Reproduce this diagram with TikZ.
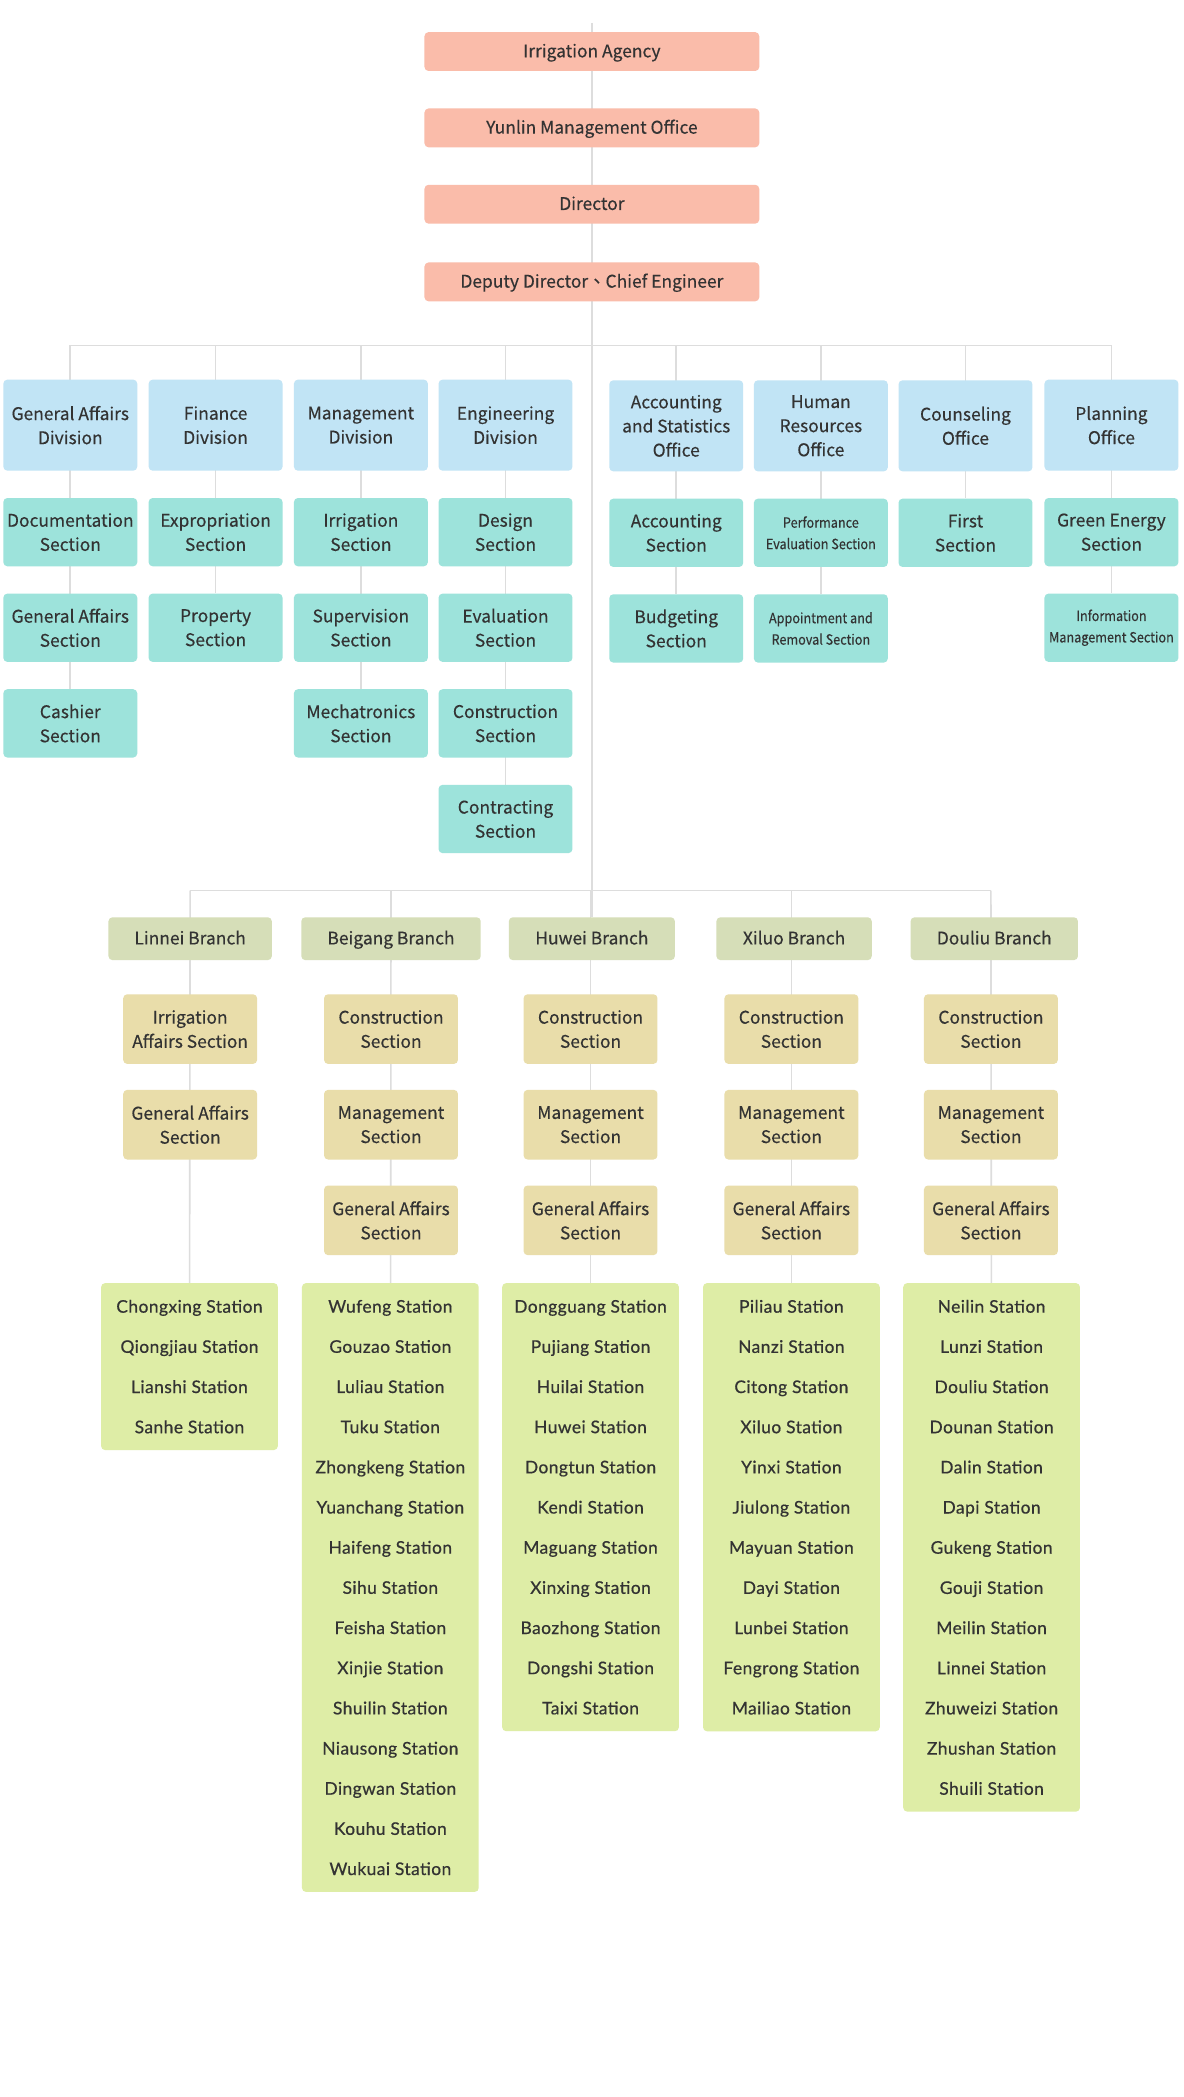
\documentclass[tikz,border=0pt]{standalone}
\usepackage{fontspec}
\setmainfont{Noto Sans CJK TC}[FakeBold=0.35]
\newfontfamily\narrowfont{Noto Sans CJK TC}[FakeBold=0.3,FakeStretch=0.9]
\newfontfamily\stationfont{Lato}[FakeBold=0.6,LetterSpace=2.5]
\usetikzlibrary{
  positioning, % for relative placement of the sections
  backgrounds, % to keep the connectors behind the boxes
}
\definecolor{headred}{HTML}{FABCAA}
\definecolor{divblue}{HTML}{C1E4F5}
\definecolor{secteal}{HTML}{9DE3DB}
\definecolor{brgreen}{HTML}{D6DEB8}
\definecolor{brsand}{HTML}{E9DDAA}
\definecolor{stgreen}{HTML}{DEEDA6}
\definecolor{linegray}{HTML}{DDDDDD}
\definecolor{textgray}{HTML}{333333}
\tikzset{
  box/.style={ % common look of every box
    rectangle,rounded corners=3pt, % flat box with soft corners
    inner sep=0pt, % size is set by minimum width and height
    align=center,text=textgray,
    font=\fontsize{13}{18}\selectfont,
  },
  oneline/.style={text height=11pt,text depth=2.4pt}, % keep single lines centred on their capitals
  head/.style={box,oneline,fill=headred,minimum width=250pt,minimum height=29pt},
  division/.style={box,fill=divblue,minimum width=100pt,minimum height=68pt},
  section/.style={ % sections under a division
    box,fill=secteal,
    minimum width=100pt,minimum height=51pt,
    node distance=20pt,
  },
  small/.style={font=\narrowfont\fontsize{10.5}{16}\selectfont}, % long section names
  branch/.style={box,oneline,fill=brgreen,minimum height=32pt},
  brsect/.style={ % sections under a branch
    box,fill=brsand,
    minimum width=100pt,minimum height=52pt,
    node distance=19pt,
  },
  stations/.style={ % list of stations of a branch
    box,fill=stgreen,anchor=north,
    minimum width=132pt,inner ysep=12.5pt,
    font=\stationfont\fontsize{13}{30}\selectfont,
  },
  conn/.style={draw=linegray,line width=1.2pt}, % plain connector
}
\begin{document}
\begin{tikzpicture}[x=1pt,y=-1pt]
  \useasboundingbox (0,0) rectangle (884,1566);

  % head of the office
  \node[head] (agency) at (442,38.5) {Irrigation Agency};
  \node[head] (office) at (442,95.5) {Yunlin Management Office};
  \node[head] (director) at (442,152.5) {Director};
  \node[head] (deputy) at (442,210.5) {Deputy Director、Chief Engineer};
  \coordinate (trunktop) at (442,17);
  \coordinate (bar1) at (0,258);
  \coordinate (bar2) at (0,665);

  % divisions and offices
  \node[division] (gad) at (52.5,317.5) {General Affairs\\Division};
  \node[division] (fid) at (161,317.5) {Finance\\Division};
  \node[division] (mad) at (269.5,317.5) {Management\\Division};
  \node[division] (end) at (377.5,317.5) {Engineering\\Division};
  \node[division] (aso) at (505,318) {Accounting\\and Statistics\\Office};
  \node[division] (hro) at (613,318) {Human\\Resources\\Office};
  \node[division] (coo) at (721,318) {Counseling\\Office};
  \node[division] (plo) at (830,317.5) {Planning\\Office};

  \node[section,below=of gad] (gad1) {Documentation\\Section};
  \node[section,below=of gad1] (gad2) {General Affairs\\Section};
  \node[section,below=of gad2] (gad3) {Cashier\\Section};

  \node[section,below=of fid] (fid1) {Expropriation\\Section};
  \node[section,below=of fid1] (fid2) {Property\\Section};

  \node[section,below=of mad] (mad1) {Irrigation\\Section};
  \node[section,below=of mad1] (mad2) {Supervision\\Section};
  \node[section,below=of mad2] (mad3) {Mechatronics\\Section};

  \node[section,below=of end] (end1) {Design\\Section};
  \node[section,below=of end1] (end2) {Evaluation\\Section};
  \node[section,below=of end2] (end3) {Construction\\Section};
  \node[section,below=of end3] (end4) {Contracting\\Section};

  \node[section,below=of aso] (aso1) {Accounting\\Section};
  \node[section,below=of aso1] (aso2) {Budgeting\\Section};

  \node[section,small,below=of hro] (hro1) {Performance\\Evaluation Section};
  \node[section,small,below=of hro1] (hro2) {Appointment and\\Removal Section};

  \node[section,below=of coo] (coo1) {First\\Section};

  \node[section,below=of plo] (plo1) {Green Energy\\Section};
  \node[section,small,below=of plo1] (plo2) {Information\\Management Section};

  % branches
  \node[branch,minimum width=122pt] (lnb) at (142,701) {Linnei Branch};
  \node[branch,minimum width=134pt] (bgb) at (292,701) {Beigang Branch};
  \node[branch,minimum width=124pt] (hwb) at (442,701) {Huwei Branch};
  \node[branch,minimum width=116pt] (xlb) at (593,701) {Xiluo Branch};
  \node[branch,minimum width=125pt] (dlb) at (742.5,701) {Douliu Branch};

  \node[brsect] (lnb1) at (142,768.5) {Irrigation\\Affairs Section};
  \node[brsect,below=of lnb1] (lnb2) {General Affairs\\Section};

  \node[brsect] (bgb1) at (292,768.5) {Construction\\Section};
  \node[brsect,below=of bgb1] (bgb2) {Management\\Section};
  \node[brsect,below=of bgb2] (bgb3) {General Affairs\\Section};

  \node[brsect] (hwb1) at (441,768.5) {Construction\\Section};
  \node[brsect,below=of hwb1] (hwb2) {Management\\Section};
  \node[brsect,below=of hwb2] (hwb3) {General Affairs\\Section};

  \node[brsect] (xlb1) at (591,768.5) {Construction\\Section};
  \node[brsect,below=of xlb1] (xlb2) {Management\\Section};
  \node[brsect,below=of xlb2] (xlb3) {General Affairs\\Section};

  \node[brsect] (dlb1) at (740,768.5) {Construction\\Section};
  \node[brsect,below=of dlb1] (dlb2) {Management\\Section};
  \node[brsect,below=of dlb2] (dlb3) {General Affairs\\Section};

  % stations
  \node[stations] (lnst) at (141.5,958) {Chongxing Station\\Qiongjiau Station\\Lianshi Station\\Sanhe Station};
  \node[stations] (bgst) at (291.5,958) {Wufeng Station\\Gouzao Station\\Luliau Station\\Tuku Station\\Zhongkeng Station\\Yuanchang Station\\Haifeng Station\\Sihu Station\\Feisha Station\\Xinjie Station\\Shuilin Station\\Niausong Station\\Dingwan Station\\Kouhu Station\\Wukuai Station};
  \node[stations] (hwst) at (441,958) {Dongguang Station\\Pujiang Station\\Huilai Station\\Huwei Station\\Dongtun Station\\Kendi Station\\Maguang Station\\Xinxing Station\\Baozhong Station\\Dongshi Station\\Taixi Station};
  \node[stations] (xlst) at (591,958) {Piliau Station\\Nanzi Station\\Citong Station\\Xiluo Station\\Yinxi Station\\Jiulong Station\\Mayuan Station\\Dayi Station\\Lunbei Station\\Fengrong Station\\Mailiao Station};
  \node[stations] (dlst) at (740.5,958) {Neilin Station\\Lunzi Station\\Douliu Station\\Dounan Station\\Dalin Station\\Dapi Station\\Gukeng Station\\Gouji Station\\Meilin Station\\Linnei Station\\Zhuweizi Station\\Zhushan Station\\Shuili Station};

  % connectors
  \begin{scope}[on background layer]
    \fill[white] (0,0) rectangle (884,1566);
    \draw[conn] (trunktop) -- (hwb);
    \draw[conn] (gad |- bar1) -- (plo |- bar1);
    \foreach \d/\s in {gad/gad3,fid/fid2,mad/mad3,end/end4,aso/aso2,hro/hro2,coo/coo1,plo/plo2}
      \draw[conn] (\d |- bar1) -- (\s);
    \draw[conn] (lnb1 |- bar2) -- (dlb1 |- bar2);
    \foreach \b/\s in {lnb1/lnst,bgb1/bgst,hwb1/hwst,xlb1/xlst,dlb1/dlst}
      \draw[conn] (\b |- bar2) -- (\s);
  \end{scope}
\end{tikzpicture}
\end{document}
